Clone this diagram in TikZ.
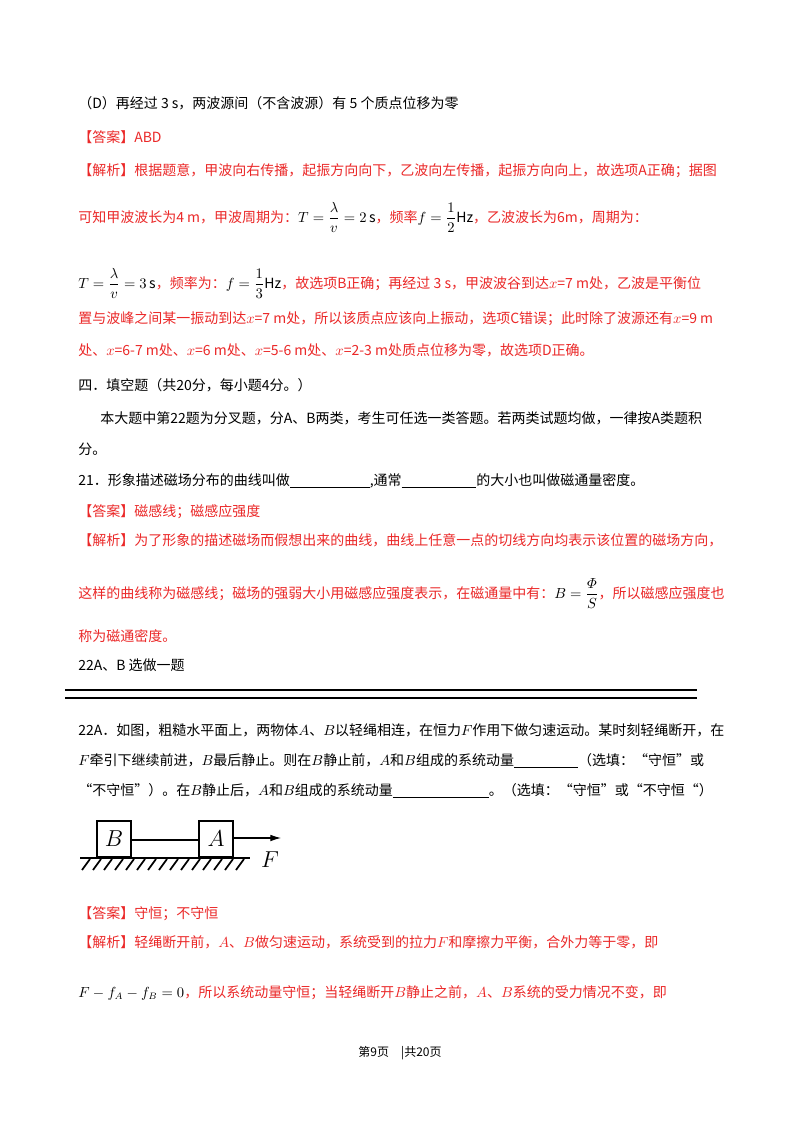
\documentclass[tikz,border=0pt]{standalone}
\usepackage{amsmath}
\usepackage{fontspec}
\setmainfont{Noto Sans CJK SC}
\usetikzlibrary{arrows.meta}
\definecolor{ans}{RGB}{235,40,40}
\tikzset{ln/.style={anchor=base west,inner sep=0pt,font=\fontsize{10.5pt}{12pt}\selectfont},
 rd/.style={ln,text=ans}}
\newcommand{\blank}[1]{\underline{\hspace{#1}}}
\begin{document}
\begin{tikzpicture}[x=0.75pt,y=-0.75pt]
\useasboundingbox (0,0) rectangle (800,1132);
\fill[white] (0,0) rectangle (800,1132);
\node[ln] (l1) at (78,108) {（D）再经过 3 s，两波源间（不含波源）有 5 个质点位移为零};
\node[rd] (l2) at (78,142) {【答案】ABD};
\node[rd] (l3) at (78,175) {【解析】根据题意，甲波向右传播，起振方向向下，乙波向左传播，起振方向向上，故选项A正确；据图};
\node[rd] (l4) at (78,222) {可知甲波波长为4 m，甲波周期为：\textcolor{black}{$T=\dfrac{\lambda}{v}=2\,\mathrm{s}$}，频率\textcolor{black}{$f=\dfrac{1}{2}\mathrm{Hz}$}，乙波波长为6m，周期为：};
\node[rd] (l5) at (78,288) {\textcolor{black}{$T=\dfrac{\lambda}{v}=3\,\mathrm{s}$}，频率为：\textcolor{black}{$f=\dfrac{1}{3}\mathrm{Hz}$}，故选项B正确；再经过 3 s，甲波波谷到达$x$=7 m处，乙波是平衡位};
\node[rd] (l6) at (78,323) {置与波峰之间某一振动到达$x$=7 m处，所以该质点应该向上振动，选项C错误；此时除了波源还有$x$=9 m};
\node[rd] (l7) at (78,355) {处、$x$=6-7 m处、$x$=6 m处、$x$=5-6 m处、$x$=2-3 m处质点位移为零，故选项D正确。};
\node[ln] (l8) at (78,390) {四．填空题（共20分，每小题4分。）};
\node[ln] (l9) at (100,423) {本大题中第22题为分叉题，分A、B两类，考生可任选一类答题。若两类试题均做，一律按A类题积};
\node[ln] (l10) at (78,454) {分。};
\node[ln] (l11) at (78,485) {21．形象描述磁场分布的曲线叫做\blank{60pt},通常\blank{56pt}的大小也叫做磁通量密度。};
\node[rd] (l12) at (78,516) {【答案】磁感线；磁感应强度};
\node[rd] (l13) at (78,545) {【解析】为了形象的描述磁场而假想出来的曲线，曲线上任意一点的切线方向均表示该位置的磁场方向，};
\node[rd] (l14) at (78,598) {这样的曲线称为磁感线；磁场的强弱大小用磁感应强度表示，在磁通量中有：\textcolor{black}{$B=\dfrac{\varPhi}{S}$}，所以磁感应强度也};
\node[rd] (l15) at (78,641) {称为磁通密度。};
\node[ln] (l16) at (78,670) {22A、B 选做一题};
\draw[line width=1pt] (65,690) -- (697,690) (65,698) -- (697,698);
\node[ln] (l17) at (78,735) {22A．如图，粗糙水平面上，两物体$A$、$B$以轻绳相连，在恒力$F$作用下做匀速运动。某时刻轻绳断开，在};
\node[ln] (l18) at (78,765) {$F$牵引下继续前进，$B$最后静止。则在$B$静止前，$A$和$B$组成的系统动量\blank{48pt}（选填：“守恒”或};
\node[ln] (l19) at (78,795) {“不守恒”）。在$B$静止后，$A$和$B$组成的系统动量\blank{72pt}。（选填：“守恒”或“不守恒“）};
% figure
\node[draw,line width=1.6pt,minimum width=25pt,minimum height=26.5pt,inner sep=0pt] (B) at (114,839) {\fontsize{17pt}{17pt}\selectfont$B$};
\node[draw,line width=1.6pt,minimum width=25pt,minimum height=26.5pt,inner sep=0pt] (A) at (216,839) {\fontsize{17pt}{17pt}\selectfont$A$};
\draw[line width=0.8pt] (B.east |- 0,840) -- (A.west |- 0,840);
\coordinate (Fend) at (281,838);
\draw[line width=0.8pt,-{Latex[length=8pt,width=5pt]}] (A.east |- 0,838) -- (Fend);
\node[inner sep=0pt] (F) at (270,860) {\fontsize{18pt}{18pt}\selectfont$F$};
\draw[line width=1.6pt] (80,858) -- (250,858);
\foreach \i in {0,...,14} \draw[line width=1.3pt] ({90+11*\i},859) -- ({82+11*\i},870);
\node[rd] (l20) at (78,918) {【答案】守恒；不守恒};
\node[rd] (l21) at (78,947) {【解析】轻绳断开前，$A$、$B$做匀速运动，系统受到的拉力$F$和摩擦力平衡，合外力等于零，即};
\node[rd] (l22) at (78,997) {\textcolor{black}{$F-f_A-f_B=0$}，所以系统动量守恒；当轻绳断开$B$静止之前，$A$、$B$系统的受力情况不变，即};
\node[anchor=base,inner sep=0pt,font=\fontsize{9pt}{10pt}\selectfont] (pg) at (400,1056) {第9页\quad|共20页};
\end{tikzpicture}
\end{document}
